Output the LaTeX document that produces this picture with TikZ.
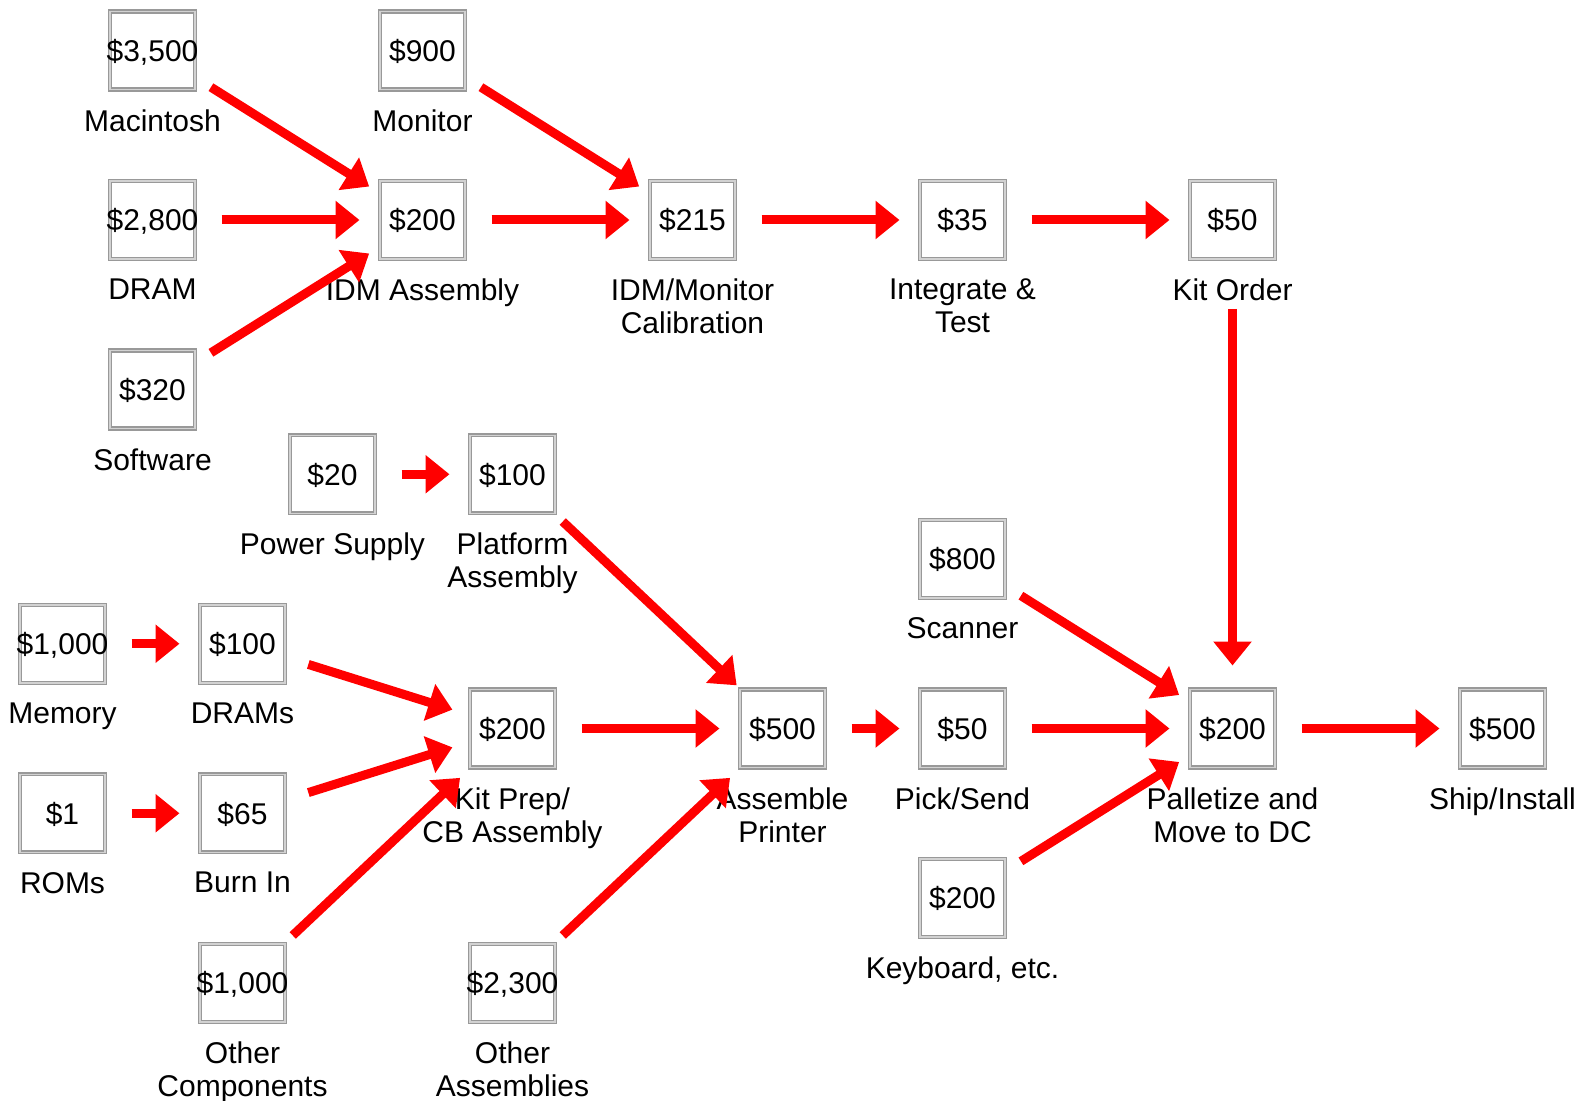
\documentclass[tikz,border=0pt]{standalone}
\usepackage{fontspec}
\setmainfont{Liberation Sans}
\usetikzlibrary{arrows.meta}
\tikzset{
  costbox/.style={draw=gray!80, double=gray!35, double distance=0.75pt, line width=0.65pt,
    fill=white, inner sep=0pt, minimum width=42.5pt, minimum height=39pt,
    text height=10.75pt, text depth=0pt,
    font=\fontsize{15pt}{17.25pt}\selectfont},
  lbl/.style={inner sep=0pt, align=center, anchor=north,
    font=\fontsize{15pt}{16.5pt}\selectfont},
  arr/.style={draw=red, line width=4.5pt, -{Triangle[width=18.5pt,length=12pt]},
    shorten <=34.5pt, shorten >=31.5pt}
}
\newcommand\costnode[5]{%
  \node[costbox] (#1) at (#2,#3) {\makebox[0pt][c]{#4}};
  \node[lbl] (#1l) at ([yshift=-29.25pt]#1.center) {#5};}
\begin{document}
\begin{tikzpicture}[x=0.5pt,y=-0.5pt]
\useasboundingbox (0,0) rectangle (1589,1101);
% nodes
\costnode{mac}{152.5}{50.5}{\$3,500}{Macintosh}
\costnode{mon}{422.5}{50.5}{\$900}{Monitor}
\costnode{dram}{152.5}{220}{\$2,800}{DRAM}
\costnode{idm}{422.5}{220}{\$200}{IDM Assembly}
\costnode{cal}{692.5}{220}{\$215}{IDM/Monitor\\Calibration}
\costnode{integ}{962.5}{220}{\$35}{Integrate \&\\Test}
\costnode{kit}{1232.5}{220}{\$50}{Kit Order}
\costnode{soft}{152.5}{389.5}{\$320}{Software}
\costnode{ps}{332.5}{474.25}{\$20}{Power Supply}
\costnode{plat}{512.5}{474.25}{\$100}{Platform\\Assembly}
\costnode{scan}{962.5}{559}{\$800}{Scanner}
\costnode{mem}{62.5}{643.75}{\$1,000}{Memory}
\costnode{drams}{242.5}{643.75}{\$100}{DRAMs}
\costnode{kitprep}{512.5}{728.5}{\$200}{Kit Prep/\\CB Assembly}
\costnode{asm}{782.5}{728.5}{\$500}{Assemble\\Printer}
\costnode{pick}{962.5}{728.5}{\$50}{Pick/Send}
\costnode{pal}{1232.5}{728.5}{\$200}{Palletize and\\Move to DC}
\costnode{ship}{1502.5}{728.5}{\$500}{Ship/Install}
\costnode{rom}{62.5}{813.25}{\$1}{ROMs}
\costnode{burn}{242.5}{813.25}{\$65}{Burn In}
\costnode{key}{962.5}{898}{\$200}{Keyboard, etc.}
\costnode{othc}{242.5}{982.75}{\$1,000}{Other\\Components}
\costnode{otha}{512.5}{982.75}{\$2,300}{Other\\Assemblies}
% connectors
\draw[arr] (mac.center) -- (idm.center);
\draw[arr] (dram.center) -- (idm.center);
\draw[arr] (soft.center) -- (idm.center);
\draw[arr] (mon.center) -- (cal.center);
\draw[arr] (idm.center) -- (cal.center);
\draw[arr] (cal.center) -- (integ.center);
\draw[arr] (integ.center) -- (kit.center);
\draw[arr, shorten <=44.5pt] (kit.center) -- (pal.center);
\draw[arr] (ps.center) -- (plat.center);
\draw[arr] (plat.center) -- (asm.center);
\draw[arr] (mem.center) -- (drams.center);
\draw[arr] (rom.center) -- (burn.center);
\draw[arr] (drams.center) -- (kitprep.center);
\draw[arr] (burn.center) -- (kitprep.center);
\draw[arr, shorten >=36pt] (othc.center) -- (kitprep.center);
\draw[arr, shorten >=36pt] (otha.center) -- (asm.center);
\draw[arr] (kitprep.center) -- (asm.center);
\draw[arr] (asm.center) -- (pick.center);
\draw[arr] (pick.center) -- (pal.center);
\draw[arr] (scan.center) -- (pal.center);
\draw[arr] (key.center) -- (pal.center);
\draw[arr] (pal.center) -- (ship.center);
\end{tikzpicture}
\end{document}
